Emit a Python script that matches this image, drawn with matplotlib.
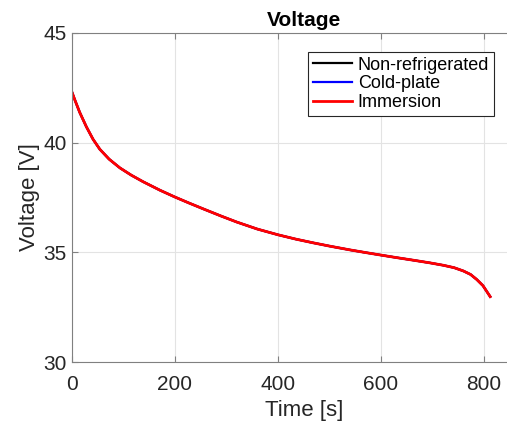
import matplotlib.pyplot as plt

plt.rcParams['font.family'] = ['Liberation Sans', 'DejaVu Sans']

# time [s] and voltage [V]
time = [0, 6, 15, 28, 41, 54, 72, 93, 115, 138, 171, 200, 226, 255, 290, 320, 360,
        400, 435, 469, 501, 540, 570, 601, 630, 663, 695, 721, 742, 760, 774, 786,
        798, 812]
voltage = [42.3, 41.92, 41.38, 40.72, 40.15, 39.7, 39.25, 38.85, 38.52, 38.22, 37.83,
           37.52, 37.26, 36.98, 36.65, 36.38, 36.06, 35.8, 35.6, 35.43, 35.28, 35.11,
           34.99, 34.87, 34.76, 34.64, 34.52, 34.41, 34.3, 34.15, 33.99, 33.76, 33.48,
           32.98]

series = ['Non-refrigerated', 'Cold-plate', 'Immersion']
colors = ['black', 'blue', 'red']
widths = [1.6, 1.6, 2]

fig = plt.figure(figsize=(5.07, 4.29), dpi=100)
# axes runs past the right edge, as in the cropped original
ax = fig.add_axes([72 / 507, 1 - 362 / 429, 463.5 / 507, 329 / 429])

for name, c, w in zip(series, colors, widths):
    ax.plot(time, voltage, color=c, linewidth=w, label=name, solid_joinstyle='round')

ax.set_xlim(0, 900)
ax.set_ylim(30, 45)
ax.set_xticks([0, 200, 400, 600, 800])
ax.set_yticks([30, 35, 40, 45])
ax.grid(True, color='#e3e3e3', linewidth=0.8)
ax.tick_params(direction='in', length=4, top=True, right=True, labelsize=15,
               colors='#808080', labelcolor='#262626', pad=4)
ax.tick_params(axis='x', pad=9)
for s in ax.spines.values():
    s.set_color('#808080')

ax.set_xlabel('Time [s]', fontsize=16, color='#262626', labelpad=5)
ax.set_ylabel('Voltage [V]', fontsize=16, color='#262626', labelpad=2)
ax.set_title('Voltage', fontsize=15, fontweight='bold', pad=5)

leg = ax.legend(loc='upper left', bbox_to_anchor=((308 - 72) / 463.5, 1 - (52 - 33) / 329),
                fontsize=13, handlelength=2.2, handletextpad=0.3, labelspacing=0.1,
                borderpad=0.25, fancybox=False, framealpha=1, borderaxespad=0)
leg.get_frame().set_edgecolor('#262626')
leg.get_frame().set_linewidth(0.8)

plt.savefig('out.png', dpi=100)
